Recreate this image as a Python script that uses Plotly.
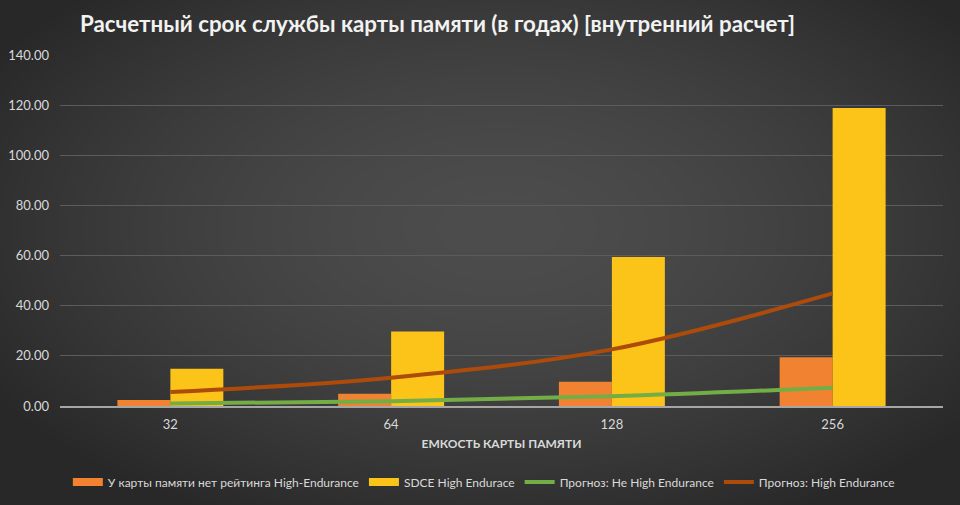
import base64, struct, zlib
import numpy as np
import plotly.graph_objects as go

categories = ["32", "64", "128", "256"]
no_rating = [2.4, 4.9, 9.7, 19.4]
sdce_high = [14.9, 29.7, 59.4, 118.9]
forecast_not_high = [1.0, 1.9, 3.9, 7.3]
forecast_high = [5.6, 11.3, 22.6, 44.9]
y_ticks = [0, 20, 40, 60, 80, 100, 120, 140]

names = ["У карты памяти нет рейтинга High-Endurance", "SDCE High Endurace",
         "Прогноз: Не High Endurance", "Прогноз: High Endurance"]
colors = ["#f08232", "#fcc419", "#72ae45", "#ad4b0a"]

W, H = 960, 505
ML, MR, MT, MB = 60, 17, 55, 99
PW, PH = W - ML - MR, H - MT - MB

# radial gradient background image
yy, xx = np.mgrid[0:H, 0:W]
d = np.sqrt(((xx - W * 0.52) / (W * 0.62)) ** 2 + ((yy - H * 0.45) / (H * 0.65)) ** 2)
d = np.clip(d, 0, 1)
val = (0x4d * (1 - d ** 1.6) + 0x28 * d ** 1.6).astype(np.uint8)
img = np.stack([val, val, val], axis=-1)
raw = b"".join(b"\x00" + img[r].tobytes() for r in range(H))


def chunk(t, data):
    c = struct.pack(">I", len(data)) + t + data
    return c + struct.pack(">I", zlib.crc32(t + data) & 0xFFFFFFFF)


png = b"\x89PNG\r\n\x1a\n" + chunk(b"IHDR", struct.pack(">IIBBBBB", W, H, 8, 2, 0, 0, 0)) \
    + chunk(b"IDAT", zlib.compress(raw, 9)) + chunk(b"IEND", b"")
bg_uri = "data:image/png;base64," + base64.b64encode(png).decode()

FONT = "Lato, 'Open Sans', sans-serif"

fig = go.Figure()
fig.add_trace(go.Bar(x=categories, y=no_rating, name=names[0], showlegend=False,
                     marker=dict(color=colors[0], line=dict(width=0))))
fig.add_trace(go.Bar(x=categories, y=sdce_high, name=names[1], showlegend=False,
                     marker=dict(color=colors[1], line=dict(width=0))))
# legend swatches for the bar series (rectangular, like the original)
for i in range(2):
    fig.add_trace(go.Scatter(x=[None], y=[None], name=names[i], mode="lines",
                             line=dict(color=colors[i], width=8)))
fig.add_trace(go.Scatter(x=categories, y=forecast_not_high, name=names[2],
                         mode="lines", line=dict(color=colors[2], width=4, shape="spline")))
fig.add_trace(go.Scatter(x=categories, y=forecast_high, name=names[3],
                         mode="lines", line=dict(color=colors[3], width=4, shape="spline")))

fig.update_layout(
    width=W, height=H,
    margin=dict(l=ML, r=MR, t=MT, b=MB, autoexpand=False),
    paper_bgcolor="#3c3c3c",
    plot_bgcolor="rgba(0,0,0,0)",
    barmode="group",
    bargap=0.52,
    bargroupgap=0,
    hovermode=False,
    font=dict(family=FONT, color="#d9d9d9", size=12),
    title=dict(text="<b>Расчетный срок службы карты памяти (в годах) [внутренний расчет]</b>",
               x=80 / W, xanchor="left", y=1 - 24 / H, yanchor="middle",
               font=dict(family=FONT, size=22.3, color="#f2f2f2")),
    xaxis=dict(showgrid=False, showline=True, linecolor="#a6a6a6", linewidth=1.5,
               ticks="", tickfont=dict(size=13, color="#d9d9d9"), automargin=False,
               ticklabelstandoff=6,
               title=dict(text="<b>ЕМКОСТЬ КАРТЫ ПАМЯТИ</b>", font=dict(size=12, color="#d9d9d9"),
                          standoff=8)),
    yaxis=dict(range=[0, 140], tickvals=y_ticks, tickformat=".2f", showgrid=True,
               gridcolor="#5c5c5c", gridwidth=1, zeroline=False, showline=False,
               ticks="", tickfont=dict(size=13, color="#d9d9d9"), automargin=False,
               ticklabelstandoff=10),
    legend=dict(orientation="h", x=0.48, xanchor="center", y=(406 - 482) / PH, yanchor="middle",
                font=dict(size=12, color="#d9d9d9"), bgcolor="rgba(0,0,0,0)", traceorder="normal",
                itemwidth=30),
    images=[dict(source=bg_uri, xref="paper", yref="paper", x=-ML / PW, y=1 + MT / PH,
                 sizex=W / PW, sizey=H / PH, xanchor="left", yanchor="top",
                 sizing="stretch", layer="below")],
)

fig.write_html("out.html")
